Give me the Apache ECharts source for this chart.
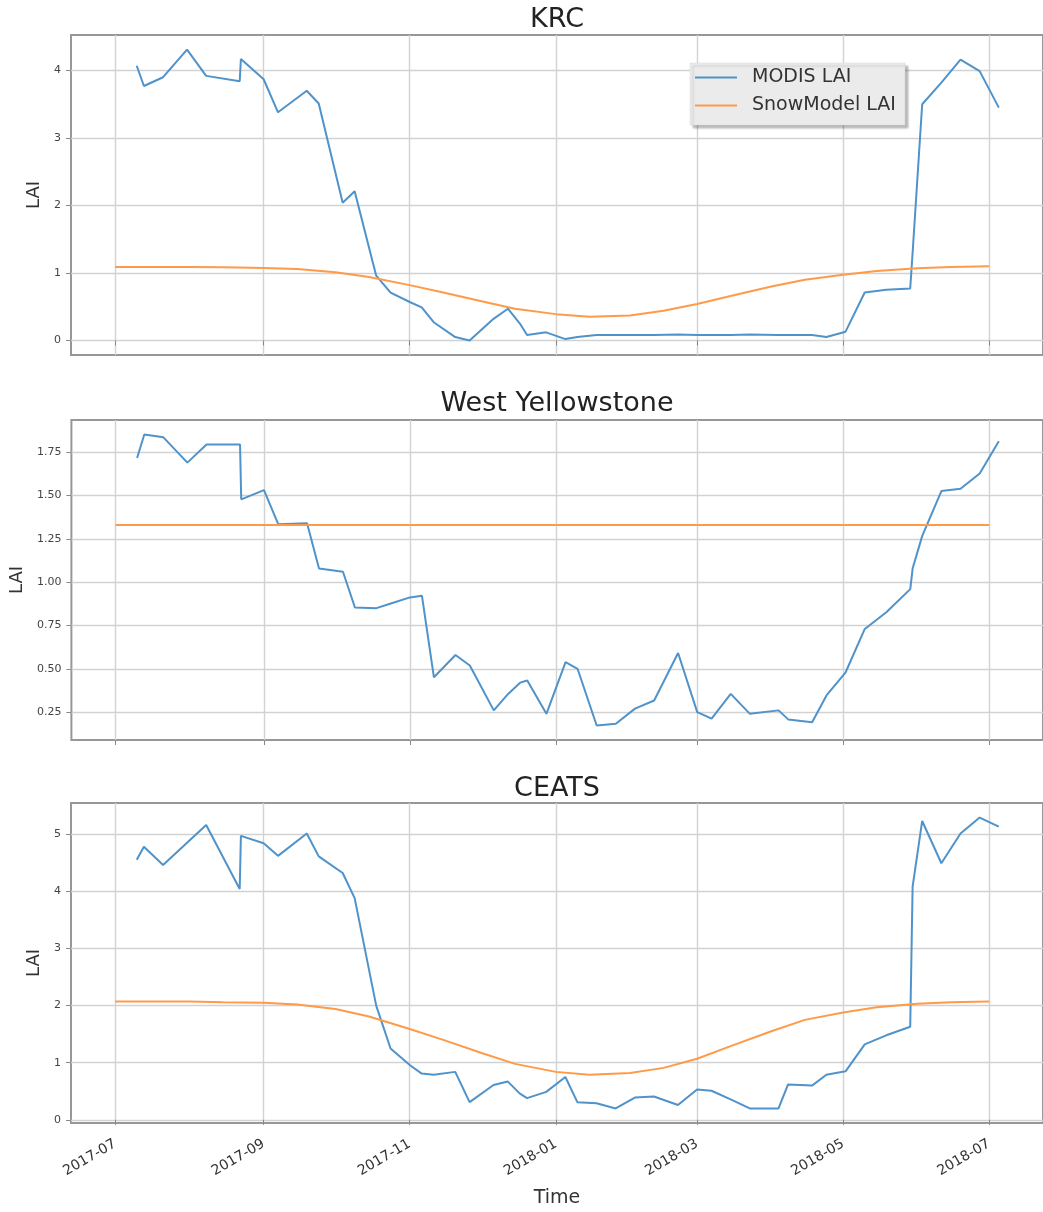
<!DOCTYPE html>
<html>
<head>
<meta charset="utf-8">
<title>MODIS vs SnowModel LAI</title>
<script src="https://cdn.jsdelivr.net/npm/echarts@6/dist/echarts.min.js"></script>
<style>
  html, body { margin: 0; padding: 0; background: #ffffff; }
  #chart { width: 1043px; height: 1212px; }
</style>
</head>
<body>
<div id="chart"></div>
<script>
// ---- data -------------------------------------------------------------
const sites = ['KRC', 'West Yellowstone', 'CEATS'];

// MODIS LAI composite dates (shared by all three sites)
const modisDates = [
  '2017-07-10', '2017-07-13', '2017-07-21', '2017-07-31', '2017-08-08',
  '2017-08-22', '2017-08-22 12:00', '2017-09-01', '2017-09-07', '2017-09-19',
  '2017-09-24', '2017-10-04', '2017-10-09', '2017-10-18', '2017-10-24',
  '2017-11-01', '2017-11-06', '2017-11-11', '2017-11-20', '2017-11-26',
  '2017-12-06', '2017-12-12', '2017-12-17', '2017-12-20', '2017-12-28',
  '2018-01-05', '2018-01-10', '2018-01-18', '2018-01-26', '2018-02-03',
  '2018-02-11', '2018-02-21', '2018-03-01', '2018-03-07', '2018-03-15',
  '2018-03-23', '2018-04-04', '2018-04-08', '2018-04-18', '2018-04-24',
  '2018-05-02', '2018-05-10', '2018-05-19', '2018-05-29', '2018-05-30',
  '2018-06-03', '2018-06-11', '2018-06-19', '2018-06-27', '2018-07-05'
];

const modisKRC = [
  4.07, 3.77, 3.90, 4.31, 3.92,
  3.84, 4.17, 3.87, 3.38, 3.70,
  3.51, 2.04, 2.21, 0.96, 0.71,
  0.57, 0.49, 0.27, 0.05, 0.00,
  0.32, 0.47, 0.25, 0.08, 0.12,
  0.02, 0.05, 0.08, 0.08, 0.08,
  0.08, 0.09, 0.08, 0.08, 0.08,
  0.09, 0.08, 0.08, 0.08, 0.05,
  0.13, 0.71, 0.75, 0.77, 1.30,
  3.50, 3.82, 4.16, 3.99, 3.45
];

const modisWY = [
  1.717, 1.852, 1.836, 1.690, 1.794,
  1.794, 1.478, 1.531, 1.334, 1.340,
  1.079, 1.060, 0.854, 0.850, 0.877,
  0.912, 0.921, 0.451, 0.580, 0.519,
  0.260, 0.355, 0.420, 0.432, 0.240,
  0.538, 0.500, 0.173, 0.183, 0.270,
  0.317, 0.591, 0.250, 0.212, 0.355,
  0.240, 0.260, 0.208, 0.192, 0.346,
  0.480, 0.730, 0.826, 0.960, 1.080,
  1.267, 1.526, 1.539, 1.627, 1.813
];

const modisCEATS = [
  4.55, 4.78, 4.46, 4.85, 5.16,
  4.04, 4.97, 4.84, 4.62, 5.01,
  4.61, 4.32, 3.88, 2.00, 1.25,
  0.96, 0.81, 0.79, 0.84, 0.31,
  0.61, 0.67, 0.46, 0.38, 0.49,
  0.75, 0.31, 0.29, 0.20, 0.39,
  0.41, 0.26, 0.53, 0.51, 0.36,
  0.20, 0.20, 0.62, 0.60, 0.79,
  0.85, 1.32, 1.48, 1.63, 4.08,
  5.23, 4.49, 5.01, 5.29, 5.13
];

// SnowModel LAI, sampled twice a month
const snowDates = [
  '2017-07-01', '2017-07-15', '2017-08-01', '2017-08-15', '2017-09-01',
  '2017-09-15', '2017-10-01', '2017-10-15', '2017-11-01', '2017-11-15',
  '2017-12-01', '2017-12-15', '2018-01-01', '2018-01-15', '2018-02-01',
  '2018-02-15', '2018-03-01', '2018-03-15', '2018-04-01', '2018-04-15',
  '2018-05-01', '2018-05-15', '2018-06-01', '2018-06-15', '2018-07-01'
];

const snowKRC = [
  1.09, 1.09, 1.09, 1.085, 1.075,
  1.06, 1.01, 0.94, 0.82, 0.71,
  0.58, 0.47, 0.39, 0.35, 0.37,
  0.44, 0.54, 0.66, 0.80, 0.90,
  0.975, 1.03, 1.07, 1.09, 1.10
];

const snowWY = [
  1.33, 1.33, 1.33, 1.33, 1.33,
  1.33, 1.33, 1.33, 1.33, 1.33,
  1.33, 1.33, 1.33, 1.33, 1.33,
  1.33, 1.33, 1.33, 1.33, 1.33,
  1.33, 1.33, 1.33, 1.33, 1.33
];

const snowCEATS = [
  2.07, 2.07, 2.07, 2.06, 2.05,
  2.02, 1.94, 1.81, 1.59, 1.40,
  1.17, 0.98, 0.84, 0.79, 0.82,
  0.91, 1.07, 1.29, 1.55, 1.75,
  1.88, 1.97, 2.03, 2.06, 2.07
];

const xTickLabels = ['2017-07', '2017-09', '2017-11', '2018-01', '2018-03', '2018-05', '2018-07'];
const yTicksKRC = [0, 1, 2, 3, 4];
const yTicksWY = [0.25, 0.50, 0.75, 1.00, 1.25, 1.50, 1.75];
const yTicksCEATS = [0, 1, 2, 3, 4, 5];

// ---- helpers ----------------------------------------------------------
function toTime(s) {
  const m = s.match(/^(\d{4})-(\d{2})(?:-(\d{2}))?(?:[ T](\d{2}):(\d{2}))?$/);
  return new Date(+m[1], +m[2] - 1, m[3] ? +m[3] : 1, m[4] ? +m[4] : 0, m[5] ? +m[5] : 0).getTime();
}
function pairs(dates, vals) {
  return dates.map((d, i) => [toTime(d), vals[i]]);
}
function padRange(lists) {
  const all = [].concat(...lists);
  const lo = Math.min(...all), hi = Math.max(...all);
  const pad = (hi - lo) * 0.05;
  return [lo - pad, hi + pad];
}
function fmtMonth(v) {
  const d = new Date(v);
  return d.getFullYear() + '-' + String(d.getMonth() + 1).padStart(2, '0');
}

const FONT = 'DejaVu Sans';
const BLUE = '#4f93ca';
const ORANGE = '#ff9a48';
const xTicks = xTickLabels.map(toTime);
const allTimes = modisDates.concat(snowDates).map(toTime);
const [xMin, xMax] = padRange([allTimes]);

const panels = [
  { modis: modisKRC, snow: snowKRC, ticks: yTicksKRC, dec: 0, top: 35, nameGap: 22 },
  { modis: modisWY, snow: snowWY, ticks: yTicksWY, dec: 2, top: 420, nameGap: 43 },
  { modis: modisCEATS, snow: snowCEATS, ticks: yTicksCEATS, dec: 0, top: 803, nameGap: 22 }
];
const titleTops = [6, 390, 775];

const grid = [], xAxis = [], yAxis = [], series = [], title = [];
panels.forEach((p, i) => {
  grid.push({
    left: 71, right: -1, top: p.top, height: 320,
    show: true, borderColor: '#979797', borderWidth: 2, backgroundColor: 'transparent'
  });
  const last = i === panels.length - 1;
  // dates are plotted as epoch milliseconds on a numeric axis
  xAxis.push({
    type: 'value', gridIndex: i, min: xMin, max: xMax, scale: true,
    axisLine: { show: false },
    axisTick: { show: true, customValues: xTicks, length: 5, lineStyle: { color: '#888', width: 1 } },
    axisLabel: {
      show: last, customValues: xTicks, formatter: fmtMonth, rotate: 30,
      fontFamily: FONT, fontSize: 14, color: '#333', margin: 20, hideOverlap: false
    },
    splitLine: { show: true, lineStyle: { color: '#d2d2d2', width: 1.4 } },
    name: last ? 'Time' : '', nameLocation: 'middle', nameGap: 66,
    nameTextStyle: { fontFamily: FONT, fontSize: 19, color: '#333' }
  });
  const [yMin, yMax] = padRange([p.modis, p.snow]);
  yAxis.push({
    type: 'value', gridIndex: i, min: yMin, max: yMax,
    axisLine: { show: false },
    axisTick: { show: true, customValues: p.ticks, length: 5, lineStyle: { color: '#888', width: 1 } },
    axisLabel: {
      customValues: p.ticks, formatter: v => v.toFixed(p.dec),
      fontFamily: FONT, fontSize: 11, color: '#444', margin: 10
    },
    splitLine: { show: true, lineStyle: { color: '#d2d2d2', width: 1.4 } },
    name: 'LAI', nameLocation: 'middle', nameRotate: 90, nameGap: p.nameGap,
    nameTextStyle: { fontFamily: FONT, fontSize: 18, color: '#333' }
  });
  series.push({
    name: 'MODIS LAI', type: 'line', xAxisIndex: i, yAxisIndex: i,
    data: pairs(modisDates, p.modis), symbol: 'none',
    lineStyle: { color: BLUE, width: 2 }, itemStyle: { color: BLUE }
  });
  series.push({
    name: 'SnowModel LAI', type: 'line', xAxisIndex: i, yAxisIndex: i,
    data: pairs(snowDates, p.snow), symbol: 'none',
    lineStyle: { color: ORANGE, width: 2 }, itemStyle: { color: ORANGE }
  });
  title.push({
    text: sites[i], left: 557, top: titleTops[i], textAlign: 'center', padding: 0,
    textStyle: { fontFamily: FONT, fontSize: 27, fontWeight: 'normal', color: '#222' }
  });
});

const chart = echarts.init(document.getElementById('chart'), null, { renderer: 'canvas' });
chart.setOption({
  animation: false,
  backgroundColor: '#ffffff',
  title,
  grid,
  xAxis,
  yAxis,
  series,
  legend: {
    data: ['MODIS LAI', 'SnowModel LAI'],
    left: 690, top: 63, orient: 'vertical',
    icon: 'rect', itemWidth: 42, itemHeight: 2, itemGap: 9,
    padding: [5, 9, 10, 5],
    backgroundColor: '#ebebeb', borderColor: '#d6d6d6', borderWidth: 0.5,
    shadowColor: 'rgba(0,0,0,0.28)', shadowBlur: 2, shadowOffsetX: 3, shadowOffsetY: 3,
    textStyle: { fontFamily: FONT, fontSize: 19, color: '#333', lineHeight: 19, padding: [0, 0, 0, 10] }
  }
});
</script>
</body>
</html>
